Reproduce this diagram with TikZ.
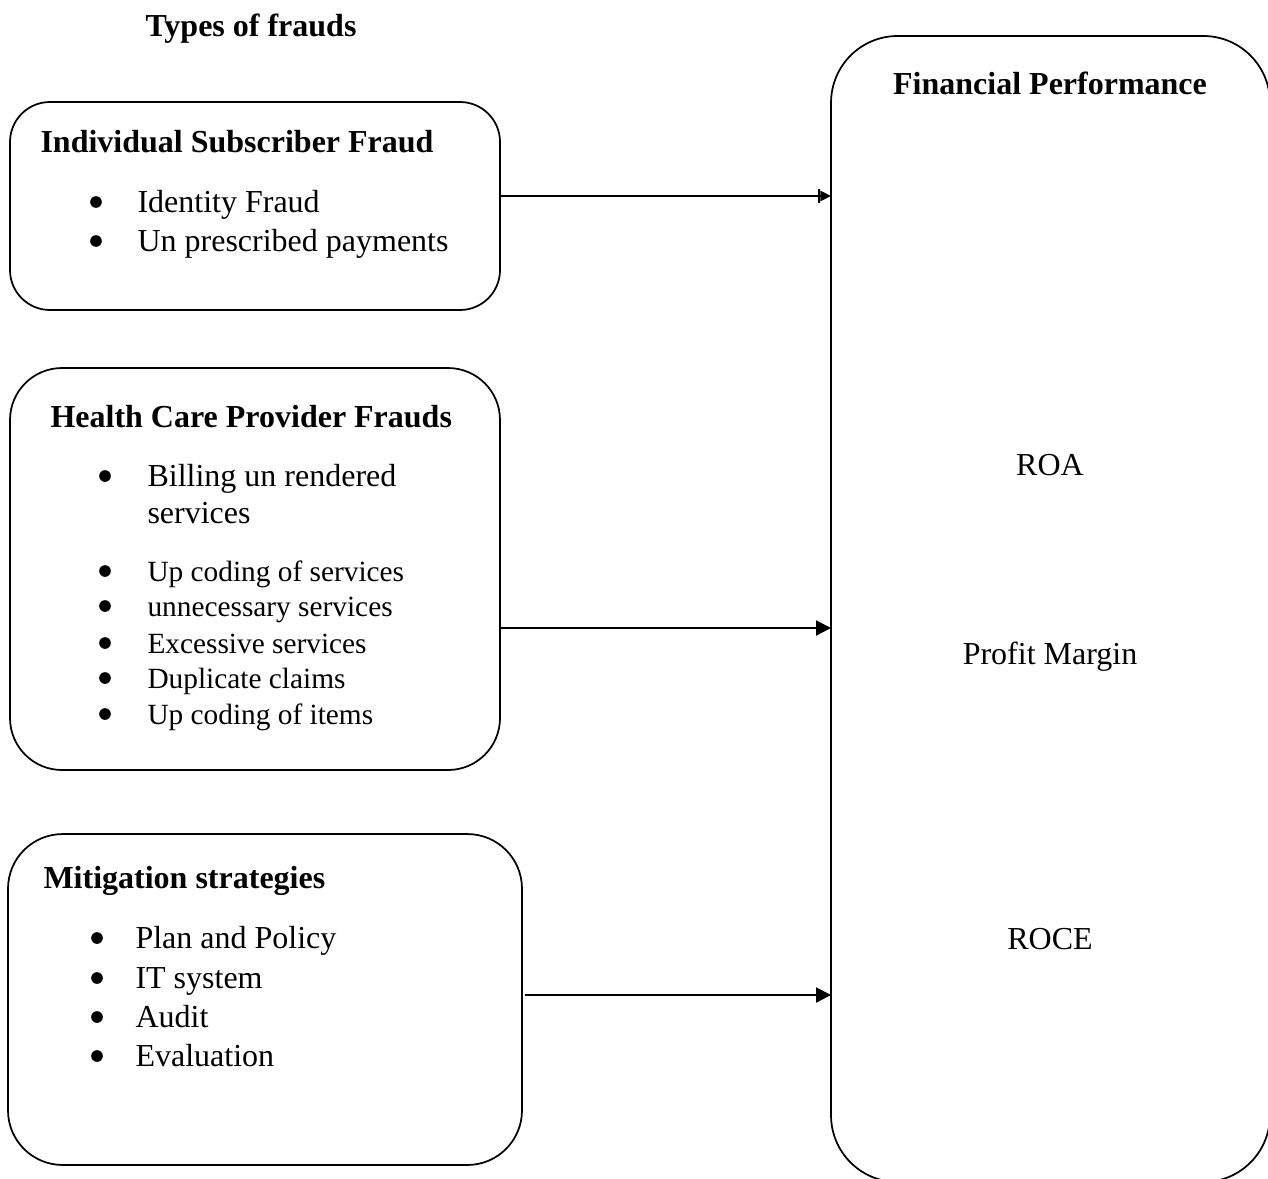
\documentclass[tikz,border=0pt]{standalone}
\usepackage{fontspec}
\setmainfont{Liberation Serif}
\usetikzlibrary{arrows.meta}
\tikzset{
  box/.style={draw=black, line width=0.65pt, rounded corners=#1, inner sep=0pt, outer sep=0pt},
  link/.style={draw=black, line width=0.75pt},
  dot/.style={circle, fill=black, inner sep=1.55pt},
  head/.style={font=\fontsize{12}{14}\selectfont\bfseries, inner sep=0pt, anchor=base west},
  item/.style={font=\fontsize{12}{14}\selectfont, inner sep=0pt, anchor=base west},
  itemsm/.style={font=\fontsize{11}{13}\selectfont, inner sep=0pt, anchor=base west},
  perf/.style={font=\fontsize{12}{14}\selectfont, inner sep=0pt, anchor=base},
}

\begin{document}
\begin{tikzpicture}[x=0.375pt, y=-0.375pt]
  \useasboundingbox (0,0) rectangle (1268,1178);
  \clip (0,0) rectangle (1268,1178);

  \node[head, anchor=base] (types) at (251,37) {Types of frauds};

  % Individual subscriber fraud
  \node[box=15pt, minimum width=183.75pt, minimum height=78pt] (isf) at (255,206) {};
  \node[head] (isfh) at (40,152) {Individual Subscriber Fraud};
  \foreach \y/\t [count=\i] in {212/Identity Fraud, 251/Un prescribed payments}{
    \node[dot] (isfd\i) at (96,\y-10) {};
    \node[item] (isft\i) at (137,\y) {\t};
  }

  % Health care provider frauds
  \node[box=19.5pt, minimum width=183.75pt, minimum height=150.75pt] (hcp) at (255,569) {};
  \node[head] (hcph) at (50,427) {Health Care Provider Frauds};
  \node[dot] (hcpd0) at (105,476) {};
  \node[item] (hcpt0) at (147,486) {Billing un rendered};
  \node[item] (hcpt00) at (147,523) {services};
  \foreach \y/\t [count=\i] in {581/Up coding of services, 616/unnecessary services,
      653/Excessive services, 688/Duplicate claims, 724/Up coding of items}{
    \node[dot] (hcpd\i) at (105,\y-10) {};
    \node[itemsm] (hcpt\i) at (147,\y) {\t};
  }

  % Mitigation strategies
  \node[box=20.5pt, minimum width=192.75pt, minimum height=124.1pt] (mit) at (265,999.5) {};
  \node[head] (mith) at (43,888) {Mitigation strategies};
  \foreach \y/\t [count=\i] in {948/Plan and Policy, 988/IT system, 1027/Audit, 1066/Evaluation}{
    \node[dot] (mitd\i) at (97,\y-10) {};
    \node[item] (mitt\i) at (135,\y) {\t};
  }

  % Financial performance
  \node[box=25pt, minimum width=164.6pt, minimum height=429.75pt] (fp) at (1050.5,609) {};
  \node[head, anchor=base] (fph) at (1050,94) {Financial Performance};
  \node[perf] (roa) at (1050,475) {ROA};
  \node[perf] (pm) at (1050,664) {Profit Margin};
  \node[perf] (roce) at (1050,949) {ROCE};

  % connectors
  \draw[link, -{Bar[width=5pt, line width=1pt]Triangle[length=4pt, width=3.8pt]}]
    (isf.east |- 0,196) -- (fp.west |- 0,196);
  \draw[link, -{Triangle[length=5.6pt, width=5.6pt]}]
    (hcp.east |- 0,628) -- (fp.west |- 0,628);
  \draw[link, -{Triangle[length=5.6pt, width=5.6pt]}]
    ([xshift=1pt]mit.east |- 0,995) -- (fp.west |- 0,995);
\end{tikzpicture}
\end{document}
